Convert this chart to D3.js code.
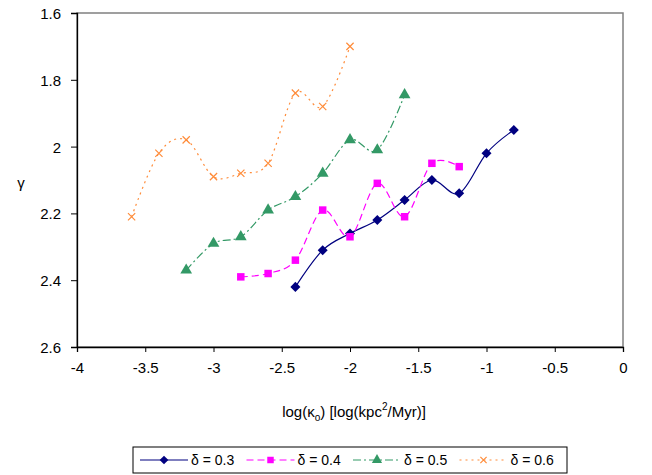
<!DOCTYPE html>
<html>
<head>
<meta charset="utf-8">
<script src="https://cdn.jsdelivr.net/npm/d3@7"></script>
<style>
  body { margin: 0; background: #fff; }
  text { font-family: "Liberation Sans", Arial, sans-serif; }
</style>
</head>
<body>
<div id="chart"></div>
<script>
// data
var seriesNames = ['δ = 0.3', 'δ = 0.4', 'δ = 0.5', 'δ = 0.6'];

var k03 = [-2.4, -2.2, -2.0, -1.8, -1.6, -1.4, -1.2, -1.0, -0.8];
var g03 = [2.42, 2.31, 2.26, 2.22, 2.16, 2.10, 2.14, 2.02, 1.95];

var k04 = [-2.8, -2.6, -2.4, -2.2, -2.0, -1.8, -1.6, -1.4, -1.2];
var g04 = [2.39, 2.38, 2.34, 2.19, 2.27, 2.11, 2.21, 2.05, 2.06];

var k05 = [-3.2, -3.0, -2.8, -2.6, -2.4, -2.2, -2.0, -1.8, -1.6];
var g05 = [2.37, 2.29, 2.27, 2.19, 2.15, 2.08, 1.98, 2.01, 1.845];

var k06 = [-3.6, -3.4, -3.2, -3.0, -2.8, -2.6, -2.4, -2.2, -2.0];
var g06 = [2.21, 2.02, 1.98, 2.09, 2.08, 2.05, 1.84, 1.88, 1.70];

var xTicks = [-4, -3.5, -3, -2.5, -2, -1.5, -1, -0.5, 0];
var yTicks = [1.6, 1.8, 2, 2.2, 2.4, 2.6];

// styles per series
var styles = [
  {color: '#000080', dash: null, marker: 'diamond'},
  {color: '#ff00ff', dash: '7,4', marker: 'square'},
  {color: '#339966', dash: '8,3,2,3', marker: 'triangle'},
  {color: '#ff8c3a', dash: '2,4', marker: 'cross'}
];

var series = [[k03, g03], [k04, g04], [k05, g05], [k06, g06]].map(function(s, i) {
  return {
    name: seriesNames[i],
    style: styles[i],
    values: s[0].map(function(k, j) { return {x: k, y: s[1][j]}; })
  };
});

var W = 652, H = 475;
var margin = {top: 13, left: 77, right: 29, bottom: 128};
var w = W - margin.left - margin.right;
var h = H - margin.top - margin.bottom;

var svg = d3.select('#chart')
  .append('svg')
  .attr('width', W)
  .attr('height', H);

var g = svg.append('g')
  .attr('transform', 'translate(' + margin.left + ',' + margin.top + ')');

var x = d3.scaleLinear().domain([-4, 0]).range([0, w]);
// y axis runs downward: 1.6 at top
var y = d3.scaleLinear().domain([1.6, 2.6]).range([0, h]);

// plot area border
g.append('rect')
  .attr('x', 0).attr('y', 0)
  .attr('width', w).attr('height', h)
  .attr('fill', 'none')
  .attr('stroke', '#808080')
  .attr('stroke-width', 1.5);

var fmt = function(d) { return String(d); };

var xAxis = g.append('g')
  .attr('transform', 'translate(0,' + h + ')')
  .call(d3.axisBottom(x).tickValues(xTicks).tickFormat(fmt).tickSize(5).tickPadding(10));

var yAxis = g.append('g')
  .call(d3.axisLeft(y).tickValues(yTicks).tickFormat(fmt).tickSize(6).tickPadding(10));

[xAxis, yAxis].forEach(function(a) {
  a.select('.domain').attr('stroke', '#000').attr('stroke-width', 1.3);
  a.selectAll('.tick line').attr('stroke', '#000');
  a.selectAll('.tick text')
    .attr('fill', '#000')
    .style('font-family', '"Liberation Sans", Arial, sans-serif')
    .style('font-size', '15px');
});
yAxis.selectAll('.tick text').attr('dy', '0.36em');

// axis titles
svg.append('text')
  .attr('x', 21).attr('y', 188)
  .attr('text-anchor', 'middle')
  .style('font-size', '15px')
  .text('γ');

var xt = svg.append('text')
  .attr('x', margin.left + w / 2 + 4).attr('y', 417)
  .attr('text-anchor', 'middle')
  .style('font-size', '15px');
xt.append('tspan').text('log(κ');
xt.append('tspan').attr('dy', 4).style('font-size', '10px').text('o');
xt.append('tspan').attr('dy', -4).text(') [log(kpc');
xt.append('tspan').attr('dy', -7).style('font-size', '10px').text('2');
xt.append('tspan').attr('dy', 7).text('/Myr)]');

// markers
function drawMarker(sel, type, color, size) {
  if (type === 'diamond') {
    sel.append('path')
      .attr('d', d3.symbol().type(d3.symbolDiamond2).size(size * 8)())
      .attr('fill', color);
  } else if (type === 'square') {
    sel.append('path')
      .attr('d', d3.symbol().type(d3.symbolSquare).size(size * 7)())
      .attr('fill', color);
  } else if (type === 'triangle') {
    sel.append('path')
      .attr('d', d3.symbol().type(d3.symbolTriangle).size(size * 7.5)())
      .attr('fill', color);
  } else {
    sel.append('path')
      .attr('d', d3.symbol().type(d3.symbolTimes).size(size * 4.5)())
      .attr('fill', 'none')
      .attr('stroke', color)
      .attr('stroke-width', 1.2);
  }
}

var line = d3.line()
  .x(function(d) { return x(d.x); })
  .y(function(d) { return y(d.y); })
  .curve(d3.curveCatmullRom.alpha(0));

var sg = g.selectAll('.series')
  .data(series)
  .enter()
  .append('g')
  .attr('class', 'series');

sg.append('path')
  .attr('d', function(d) { return line(d.values); })
  .attr('fill', 'none')
  .attr('stroke', function(d) { return d.style.color; })
  .attr('stroke-width', 1.2)
  .attr('stroke-dasharray', function(d) { return d.style.dash; });

sg.each(function(s) {
  d3.select(this).selectAll('.pt')
    .data(s.values)
    .enter()
    .append('g')
    .attr('transform', function(d) { return 'translate(' + x(d.x) + ',' + y(d.y) + ')'; })
    .each(function() { drawMarker(d3.select(this), s.style.marker, s.style.color, 8); });
});

// legend
var leg = svg.append('g').attr('transform', 'translate(133,447)');
leg.append('rect')
  .attr('width', 434).attr('height', 26)
  .attr('fill', '#fff')
  .attr('stroke', '#000')
  .attr('stroke-width', 1);

var li = leg.selectAll('.li')
  .data(series)
  .enter()
  .append('g')
  .attr('transform', function(d, i) { return 'translate(' + (7 + i * 106.5) + ',13)'; });

li.append('line')
  .attr('x1', 0).attr('x2', 48)
  .attr('stroke', function(d) { return d.style.color; })
  .attr('stroke-width', 1.2)
  .attr('stroke-dasharray', function(d) { return d.style.dash; });

li.append('g')
  .attr('transform', 'translate(24,0)')
  .each(function(d) { drawMarker(d3.select(this), d.style.marker, d.style.color, 6); });

li.append('text')
  .attr('x', 51).attr('y', 5)
  .style('font-size', '14px')
  .text(function(d) { return d.name; });
</script>
</body>
</html>
